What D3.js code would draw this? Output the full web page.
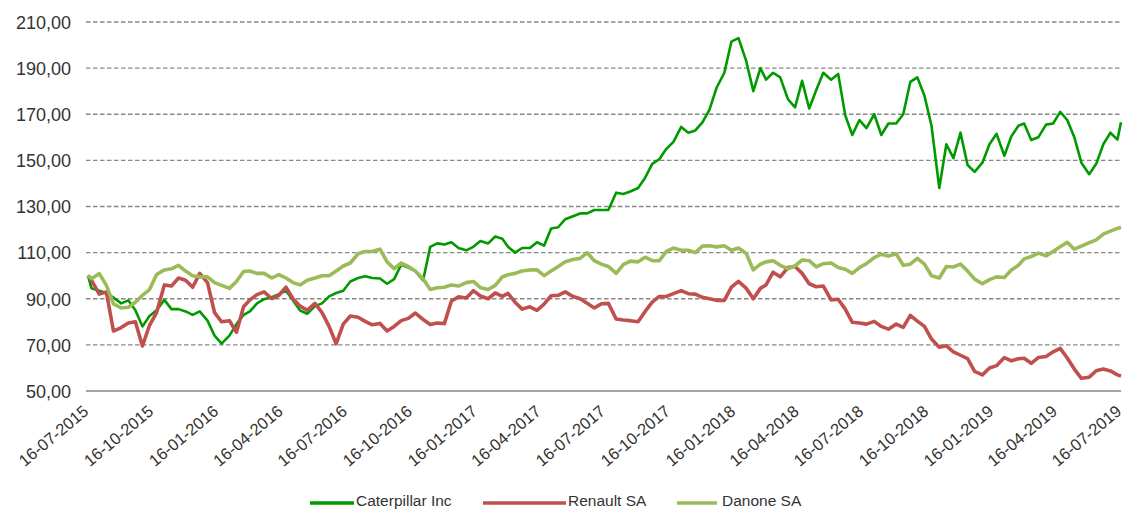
<!DOCTYPE html>
<html>
<head>
<meta charset="utf-8">
<script src="https://cdnjs.cloudflare.com/ajax/libs/d3/7.8.5/d3.min.js"></script>
<style>
  body { margin: 0; background: #fff; }
  svg { display: block; font-family: "Liberation Sans", Arial, sans-serif; }
  .grid line { stroke: #888; stroke-width: 1.3; stroke-dasharray: 4.5 2.5; }
  .axis text { fill: #333; }
  .legend text { fill: #333; font-size: 15.5px; }
</style>
</head>
<body>
<svg></svg>
<script>
var width = 1127,
    height = 510;

// dates (1st, 11th and 21st of each month)
var dates = [
  "2015-07-16","2015-07-21","2015-08-01","2015-08-11","2015-08-21","2015-09-01","2015-09-11","2015-09-21",
  "2015-10-01","2015-10-11","2015-10-21","2015-11-01","2015-11-11","2015-11-21","2015-12-01","2015-12-11","2015-12-21",
  "2016-01-01","2016-01-11","2016-01-21","2016-02-01","2016-02-11","2016-02-21","2016-03-01","2016-03-11","2016-03-21",
  "2016-04-01","2016-04-11","2016-04-21","2016-05-01","2016-05-11","2016-05-21","2016-06-01","2016-06-11","2016-06-21",
  "2016-07-01","2016-07-11","2016-07-21","2016-08-01","2016-08-11","2016-08-21","2016-09-01","2016-09-11","2016-09-21",
  "2016-10-01","2016-10-11","2016-10-21","2016-11-01","2016-11-11","2016-11-21","2016-12-01","2016-12-11","2016-12-21",
  "2017-01-01","2017-01-11","2017-01-21","2017-02-01","2017-02-11","2017-02-21","2017-03-01","2017-03-11","2017-03-21",
  "2017-04-01","2017-04-11","2017-04-21","2017-05-01","2017-05-11","2017-05-21","2017-06-01","2017-06-11","2017-06-21",
  "2017-07-01","2017-07-11","2017-07-21","2017-08-01","2017-08-11","2017-08-21","2017-09-01","2017-09-11","2017-09-21",
  "2017-10-01","2017-10-11","2017-10-21","2017-11-01","2017-11-11","2017-11-21","2017-12-01","2017-12-11","2017-12-21",
  "2018-01-01","2018-01-11","2018-01-21","2018-02-01","2018-02-11","2018-02-21","2018-03-01","2018-03-11","2018-03-21",
  "2018-04-01","2018-04-11","2018-04-21","2018-05-01","2018-05-11","2018-05-21","2018-06-01","2018-06-11","2018-06-21",
  "2018-07-01","2018-07-11","2018-07-21","2018-08-01","2018-08-11","2018-08-21","2018-09-01","2018-09-11","2018-09-21",
  "2018-10-01","2018-10-11","2018-10-21","2018-11-01","2018-11-11","2018-11-21","2018-12-01","2018-12-11","2018-12-21",
  "2019-01-01","2019-01-11","2019-01-21","2019-02-01","2019-02-11","2019-02-21","2019-03-01","2019-03-11","2019-03-21",
  "2019-04-01","2019-04-11","2019-04-21","2019-05-01","2019-05-11","2019-05-21","2019-06-01","2019-06-11","2019-06-21",
  "2019-07-01","2019-07-11","2019-07-16"
];

var caterpillar = [
  100, 94.5, 93.5, 92.5, 90.5, 88, 89.3, 85, 78, 82.5, 85, 89.5, 85.5, 85.5, 84.5, 83, 84.5,
  80.5, 74, 70.5, 74, 79, 83, 84.5, 88, 89.8, 90.7, 92, 93.5, 89.3, 84.9, 83.5, 86.8, 88, 91,
  92.5, 93.5, 97.5, 99, 99.8, 99, 98.8, 96.5, 98.5, 104.8, 103.5, 102, 98, 112.5, 114, 113.5, 114.5, 112,
  111, 112.5, 115, 114, 117, 116, 112.5, 110, 112, 112, 114.5, 113, 120.5, 121, 124.5, 125.8, 127, 127,
  128.5, 128.5, 128.5, 136, 135.4, 136.5, 138, 142.5, 148.5, 150.5, 155, 158, 164.5, 162, 163, 166.5, 172, 181.5,
  188, 201.5, 203, 193, 180, 190, 185, 188, 186, 176.5, 173, 184.5, 172.5, 180.5, 188, 185, 187.5, 169.5,
  161, 167.5, 164, 170, 161, 166, 166, 170, 184, 186, 178, 165, 138, 157, 151, 162, 148, 145,
  149, 157, 161.5, 152, 160.5, 165, 166, 158.8, 160, 165.5, 166, 171, 167.5, 160, 149, 144, 148.5, 157,
  162, 159, 166.5
];

var renault = [
  100, 98, 92, 92.9, 76, 77.5, 79.5, 80, 69.5, 78.5, 84, 96, 95.5, 99, 98, 95, 101,
  97, 84, 80, 80.5, 75.5, 86.5, 89.5, 91.8, 93, 90, 91.5, 95, 90, 86.8, 85, 88, 84, 78,
  70.5, 79, 82.5, 82, 80.2, 78.7, 79.3, 76, 78, 80.5, 81.5, 83.8, 81, 78.8, 79.5, 79.2, 89, 90.8,
  90.3, 93.5, 91.2, 90, 92.5, 91, 92.3, 88.5, 85.5, 86.5, 85, 87.7, 91.3, 91.5, 93, 91, 90, 88,
  86, 87.8, 88, 81.2, 80.8, 80.5, 80, 84.5, 88.5, 91, 91, 92.2, 93.5, 92.2, 92, 90.6, 90, 89.3,
  89.3, 95, 97.5, 94.5, 90, 94.5, 96, 101.5, 99.5, 103.5, 104, 101, 96.5, 95.2, 95.5, 89.5, 89.8, 85.5,
  79.8, 79.5, 79, 80.2, 78, 76.8, 79, 77.6, 82.8, 80.3, 78, 72.5, 69, 69.6, 67, 65.5, 64, 58.5,
  57, 60, 61, 64.5, 63.1, 64, 64.2, 62, 64.5, 65, 67, 68.5, 64.3, 59.5, 55.5, 56, 58.8, 59.5,
  58.7, 57, 56.5
];

var danone = [
  100, 98.7, 100.9, 95.8, 87.8, 86, 86.3, 88.5, 91.5, 94, 100.5, 102.5, 103, 104.5, 102, 100, 99.5,
  99.5, 97, 95.8, 94.5, 97.5, 101.8, 102, 101, 101, 99, 100.5, 99, 97, 96, 98, 99, 100, 100,
  102, 104.2, 105.5, 109.5, 110.5, 110.5, 111.5, 106, 103, 105.5, 104, 102, 98.7, 94, 94.8, 95, 96, 95.5,
  97, 97.5, 94.8, 94, 95.8, 99.5, 100.4, 101, 102, 102.5, 102.5, 100, 102, 104, 106, 107, 107.5, 110,
  106.5, 105, 104, 101, 104.8, 106.3, 106, 108, 106.5, 106.5, 110.5, 112, 111, 111, 110, 112.8, 113, 112.5,
  113, 111, 112, 109.6, 102.5, 105, 106, 106.5, 104.5, 103, 104.3, 106.8, 106.5, 103.8, 105.2, 105.5, 103.5, 102.8,
  101, 103.5, 105.2, 107.8, 109.3, 108.5, 109.5, 104.5, 105, 107.5, 105, 100, 99, 104, 103.8, 105, 102, 98.5,
  96.5, 98.3, 99.5, 99.2, 102.5, 104.5, 107.3, 108.3, 109.8, 108.6, 110.5, 112.5, 114.5, 111.5, 112.8, 114.3, 115.5, 118,
  119.3, 120.5, 121
];

var seriesNames = ["Caterpillar Inc", "Renault SA", "Danone SA"];
var seriesColors = ["#009a00", "#c0504d", "#9bbb59"];
var seriesWidths = [2.6, 3.6, 3.6];

var yTicks = [50, 70, 90, 110, 130, 150, 170, 190, 210];
var xTicks = ["2015-07-16","2015-10-16","2016-01-16","2016-04-16","2016-07-16","2016-10-16",
              "2017-01-16","2017-04-16","2017-07-16","2017-10-16","2018-01-16","2018-04-16",
              "2018-07-16","2018-10-16","2019-01-16","2019-04-16","2019-07-16"];

var parseDate = d3.timeParse("%Y-%m-%d");
var margin = {left: 88, right: 6, top: 22, bottom: 119};

var x = d3.scaleTime()
    .domain([parseDate(dates[0]), parseDate(dates[dates.length - 1])])
    .range([margin.left, width - margin.right]);

var y = d3.scaleLinear()
    .domain([50, 210])
    .range([height - margin.bottom, margin.top]);

var svg = d3.select("svg")
    .attr("width", width)
    .attr("height", height);

// gridlines
svg.append("g")
    .attr("class", "grid")
    .selectAll("line")
    .data(yTicks.filter(function (d) { return d > 50; }))
    .enter().append("line")
    .attr("x1", margin.left - 2)
    .attr("x2", width - margin.right)
    .attr("y1", function (d) { return y(d); })
    .attr("y2", function (d) { return y(d); });

svg.append("line")
    .attr("x1", margin.left - 2)
    .attr("x2", width - margin.right)
    .attr("y1", y(50))
    .attr("y2", y(50))
    .attr("stroke", "#888")
    .attr("stroke-width", 1.3);

// y axis labels
var yAxis = svg.append("g")
    .attr("class", "axis")
    .attr("transform", "translate(" + margin.left + ",0)")
    .call(d3.axisLeft(y)
        .tickValues(yTicks)
        .tickSize(0)
        .tickPadding(17)
        .tickFormat(function (d) { return d3.format(".2f")(d).replace(".", ","); }));
yAxis.select(".domain").remove();
yAxis.selectAll("text").style("font-size", "18px").attr("dy", "0.35em");

// x axis labels
var xAxis = svg.append("g")
    .attr("class", "axis")
    .attr("transform", "translate(0," + y(50) + ")")
    .call(d3.axisBottom(x)
        .tickValues(xTicks.map(parseDate))
        .tickSize(0)
        .tickFormat(d3.timeFormat("%d-%m-%Y")));
xAxis.select(".domain").remove();
xAxis.selectAll("text")
    .style("font-size", "16.5px")
    .style("text-anchor", "end")
    .attr("dy", null)
    .attr("y", 0)
    .attr("transform", "translate(1,22) rotate(-40)");

// lines
var series = [caterpillar, renault, danone];
var line = d3.line()
    .x(function (d) { return x(parseDate(d[0])); })
    .y(function (d) { return y(d[1]); });

series.forEach(function (values, i) {
    var pts = dates.map(function (dt, j) { return [dt, values[j]]; });
    svg.append("path")
        .datum(pts)
        .attr("fill", "none")
        .attr("stroke", seriesColors[i])
        .attr("stroke-width", seriesWidths[i])
        .attr("stroke-linejoin", "round")
        .attr("d", line);
});

// legend
var legendLines = [[310, 354], [483, 566], [677, 717]];
var legendText = [356, 568, 722];
var legend = svg.append("g").attr("class", "legend");
seriesNames.forEach(function (name, i) {
    legend.append("line")
        .attr("x1", legendLines[i][0])
        .attr("x2", legendLines[i][1])
        .attr("y1", 503)
        .attr("y2", 503)
        .attr("stroke", seriesColors[i])
        .attr("stroke-width", 3.5);
    legend.append("text")
        .attr("x", legendText[i])
        .attr("y", 506)
        .text(name);
});
</script>
</body>
</html>
